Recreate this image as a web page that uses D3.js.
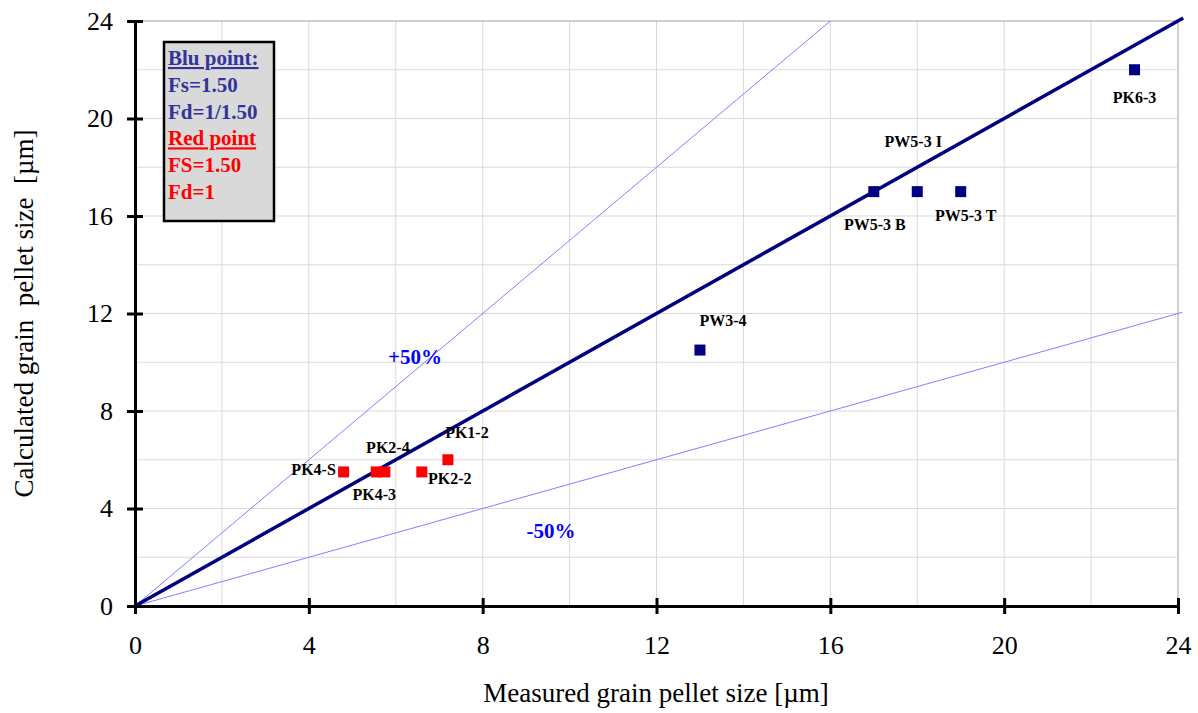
<!DOCTYPE html>
<html><head><meta charset="utf-8">
<script src="https://cdn.jsdelivr.net/npm/d3@7"></script>
<style>body{margin:0;background:#fff}</style>
</head><body>
<svg id="c" width="1198" height="713"></svg>
<script>
const xTicks = [0, 4, 8, 12, 16, 20, 24];
const yTicks = [0, 4, 8, 12, 16, 20, 24];
const blueNames = ["PK6-3", "PW5-3 B", "PW5-3 I", "PW5-3 T", "PW3-4"];
const blueMeasured = [23, 17, 18, 19, 13];
const blueCalculated = [22, 17, 17, 17, 10.5];
const redNames = ["PK4-S", "PK4-3", "PK2-4", "PK2-2", "PK1-2"];
const redMeasured = [4.8, 5.55, 5.75, 6.6, 7.2];
const redCalculated = [5.5, 5.5, 5.5, 5.5, 6.0];
const legendLines = ["Blu point:", "Fs=1.50", "Fd=1/1.50", "Red point", "FS=1.50", "Fd=1"];
// label offsets in pixels (dx, dy) relative to marker
const blueLabelOffsets = [[0, 28], [1, 33], [-4, -50], [5, 24], [23, -30]];
const redLabelOffsets = [[-30, -2], [-2, 23], [3, -24], [28, 7], [19, -27]];

const W = 1198, H = 713;
const m = {left: 135, right: 1178, top: 21, bottom: 606};
const x = d3.scaleLinear().domain([0, 24]).range([m.left, m.right]);
const y = d3.scaleLinear().domain([0, 24]).range([m.bottom, m.top]);
const svg = d3.select("#c");
const serif = "'Liberation Serif','Times New Roman',serif";

// gridlines
const grid = d3.range(2, 25, 2);
svg.append("g").selectAll("line").data(grid).join("line")
  .attr("x1", d => x(d)).attr("x2", d => x(d)).attr("y1", m.top).attr("y2", m.bottom)
  .attr("stroke", d => d === 24 ? "#a0a0a0" : "#d9d9d9").attr("stroke-width", 1);
svg.append("g").selectAll("line").data(grid).join("line")
  .attr("y1", d => y(d)).attr("y2", d => y(d)).attr("x1", m.left).attr("x2", m.right)
  .attr("stroke", d => d === 24 ? "#a0a0a0" : "#d9d9d9").attr("stroke-width", 1);

// reference lines
const thin = [[1.5, 16], [0.5, 24.1]];
thin.forEach(([k, xm]) => {
  svg.append("line").attr("x1", x(0)).attr("y1", y(0)).attr("x2", x(xm)).attr("y2", y(k * xm))
    .attr("stroke", "#8080ff").attr("stroke-width", 1);
});
svg.append("line").attr("x1", x(0)).attr("y1", y(0)).attr("x2", x(24.12)).attr("y2", y(24.12))
  .attr("stroke", "#000080").attr("stroke-width", 3.5);

// axes
const xAxis = d3.axisBottom(x).tickValues(xTicks).tickSizeInner(8).tickSizeOuter(0).tickPadding(22).tickFormat(d3.format("d"));
const gx = svg.append("g").attr("transform", `translate(0,${m.bottom})`).call(xAxis);
gx.select(".domain").attr("stroke", "#000").attr("stroke-width", 3);
gx.selectAll(".tick line").attr("stroke", "#000").attr("stroke-width", 3).attr("y1", -8);
gx.selectAll(".tick text").attr("font-family", serif).attr("font-size", 26).attr("fill", "#000");

const yAxis = d3.axisLeft(y).tickValues(yTicks).tickSizeInner(8).tickSizeOuter(0).tickPadding(14).tickFormat(d3.format("d"));
const gy = svg.append("g").attr("transform", `translate(${m.left},0)`).call(yAxis);
gy.select(".domain").attr("stroke", "#000").attr("stroke-width", 3);
gy.selectAll(".tick line").attr("stroke", "#000").attr("stroke-width", 3).attr("x1", 8);
gy.selectAll(".tick text").attr("font-family", serif).attr("font-size", 26).attr("fill", "#000");

// axis titles
svg.append("text").attr("x", 656).attr("y", 702).attr("text-anchor", "middle")
  .attr("font-family", serif).attr("font-size", 27).text("Measured grain pellet size [µm]");
svg.append("text").attr("transform", `translate(33,${(m.top + m.bottom) / 2}) rotate(-90)`)
  .attr("text-anchor", "middle").attr("font-family", serif).attr("font-size", 27)
  .attr("xml:space", "preserve").style("white-space", "pre")
  .text("Calculated grain  pellet size  [µm]");

// +/- 50% labels
svg.append("text").attr("x", 415).attr("y", 364).attr("text-anchor", "middle").attr("font-family", serif)
  .attr("font-size", 21).attr("font-weight", "bold").attr("fill", "#0000ff").text("+50%");
svg.append("text").attr("x", 551).attr("y", 538).attr("text-anchor", "middle").attr("font-family", serif)
  .attr("font-size", 21).attr("font-weight", "bold").attr("fill", "#0000ff").text("-50%");

// points
const blue = blueNames.map((n, i) => ({n, x: blueMeasured[i], y: blueCalculated[i], o: blueLabelOffsets[i]}));
const red = redNames.map((n, i) => ({n, x: redMeasured[i], y: redCalculated[i], o: redLabelOffsets[i]}));
const sz = 11;
[[blue, "#000080"], [red, "#ff0000"]].forEach(([data, col]) => {
  svg.append("g").selectAll("rect").data(data).join("rect")
    .attr("x", d => x(d.x) - sz / 2).attr("y", d => y(d.y) - sz / 2)
    .attr("width", sz).attr("height", sz).attr("fill", col);
  svg.append("g").selectAll("text").data(data).join("text")
    .attr("x", d => x(d.x) + d.o[0]).attr("y", d => y(d.y) + d.o[1] + 5.5)
    .attr("text-anchor", "middle").attr("font-family", serif).attr("font-size", 16)
    .attr("font-weight", "bold").attr("fill", "#000").text(d => d.n);
});

// legend box
svg.append("rect").attr("x", 164).attr("y", 42).attr("width", 110).attr("height", 179)
  .attr("fill", "#d9d9d9").attr("stroke", "#000").attr("stroke-width", 2.5);
const lg = svg.append("g");
legendLines.forEach((t, i) => {
  const col = i < 3 ? "#333399" : "#ff0000";
  lg.append("text").attr("x", 168).attr("y", 65 + i * 26.8).attr("font-family", serif)
    .attr("font-size", 21).attr("font-weight", "bold").attr("fill", col)
    .attr("text-decoration", (i === 0 || i === 3) ? "underline" : null).text(t);
});
</script>
</body></html>
